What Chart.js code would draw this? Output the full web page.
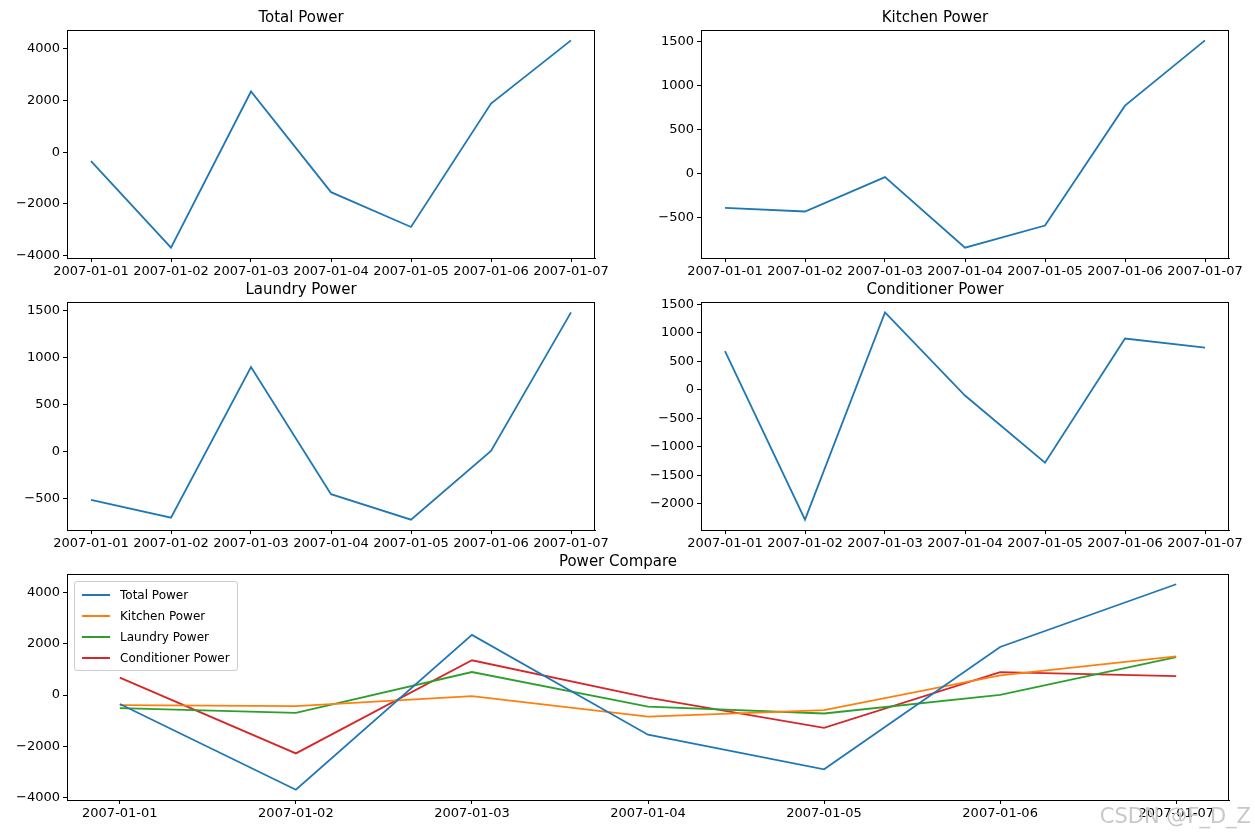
<!DOCTYPE html>
<html>
<head>
<meta charset="utf-8">
<script src="https://cdn.jsdelivr.net/npm/chart.js@4.4.1/dist/chart.umd.min.js"></script>
<style>
  body { margin: 0; background: #fff; font-family: "DejaVu Sans", sans-serif; }
  .box { position: absolute; }
  #legend { position: absolute; left: 74px; top: 581px; background: rgba(255,255,255,0.85);
            border: 1px solid #ccc; border-radius: 3px; padding: 2px 7px; font-size: 12px; }
  #legend div { display: flex; align-items: center; height: 21px; }
  #legend span.sw { display: inline-block; width: 28px; height: 2px; margin-right: 10px; }
  #wm { position: absolute; right: 4px; bottom: 6px; color: #c8c8c8; font-size: 21px; }
</style>
</head>
<body>
<div class="box" id="b0"><canvas id="c0"></canvas></div>
<div class="box" id="b1"><canvas id="c1"></canvas></div>
<div class="box" id="b2"><canvas id="c2"></canvas></div>
<div class="box" id="b3"><canvas id="c3"></canvas></div>
<div class="box" id="b4"><canvas id="c4"></canvas></div>
<div id="legend"></div>
<div id="wm">CSDN @F_D_Z</div>
<script>
  const dates = ['2007-01-01', '2007-01-02', '2007-01-03', '2007-01-04', '2007-01-05', '2007-01-06', '2007-01-07'];
  const totalPower = [-350, -3700, 2350, -1550, -2900, 1880, 4330];
  const kitchenPower = [-390, -430, -40, -840, -590, 770, 1510];
  const laundryPower = [-510, -700, 900, -450, -720, 10, 1480];
  const conditionerPower = [680, -2280, 1360, -100, -1280, 900, 740];
  const colors = ['#1f77b4', '#ff7f0e', '#2ca02c', '#d62728'];

  const frame = {
    id: 'frame',
    afterDraw(chart) {
      const a = chart.chartArea, ctx = chart.ctx;
      ctx.save(); ctx.strokeStyle = '#000'; ctx.lineWidth = 1;
      ctx.strokeRect(a.left + 0.5, a.top + 0.5, a.right - a.left - 1, a.bottom - a.top);
      ctx.restore();
    }
  };

  function makeChart(idx, L, T, W, H, title, series, step) {
    const box = document.getElementById('b' + idx);
    Object.assign(box.style, { left: (L - 60) + 'px', top: (T - 24) + 'px',
      width: (W + 100) + 'px', height: (H + 54) + 'px' });
    const all = series.flatMap(s => s.data);
    const lo = Math.min(...all), hi = Math.max(...all), m = (hi - lo) * 0.05;
    new Chart(document.getElementById('c' + idx), {
      type: 'line',
      data: {
        datasets: series.map(s => ({
          label: s.label, data: s.data.map((v, i) => ({ x: i, y: v })),
          borderColor: s.color, borderWidth: 1.8, pointRadius: 0, tension: 0
        }))
      },
      options: {
        responsive: true, maintainAspectRatio: false, animation: false,
        layout: { padding: { left: 0, right: 40, top: 0, bottom: 0 } },
        plugins: {
          legend: { display: false }, tooltip: { enabled: false },
          title: { display: true, text: title, color: '#000',
                   font: { size: 15, family: 'DejaVu Sans', weight: 'normal' },
                   padding: { top: 3, bottom: 3 } }
        },
        scales: {
          x: {
            type: 'linear', min: -0.3, max: 6.3,
            afterFit: s => { s.height = 30; },
            afterBuildTicks: s => { s.ticks = dates.map((d, i) => ({ value: i })); },
            ticks: { autoSkip: false, maxRotation: 0, color: '#000', padding: 2,
                     font: { size: 13, family: 'DejaVu Sans' },
                     callback: v => dates[v] },
            grid: { drawOnChartArea: false, tickLength: 4, color: '#000' },
            border: { color: '#000' }
          },
          y: {
            min: lo - m, max: hi + m,
            afterFit: s => { s.width = 60; },
            afterBuildTicks: s => {
              const t = [];
              for (let v = Math.ceil((lo - m) / step) * step; v <= hi + m; v += step) t.push({ value: v });
              s.ticks = t;
            },
            ticks: { color: '#000', padding: 3, font: { size: 13, family: 'DejaVu Sans' },
                     callback: v => (v < 0 ? '\u2212' : '') + Math.abs(v) },
            grid: { drawOnChartArea: false, tickLength: 4, color: '#000' },
            border: { color: '#000' }
          }
        }
      },
      plugins: [frame]
    });
  }

  makeChart(0, 67, 30, 528, 228, 'Total Power', [{ label: 'Total Power', data: totalPower, color: colors[0] }], 2000);
  makeChart(1, 701, 30, 528, 228, 'Kitchen Power', [{ label: 'Kitchen Power', data: kitchenPower, color: colors[0] }], 500);
  makeChart(2, 67, 302, 528, 228, 'Laundry Power', [{ label: 'Laundry Power', data: laundryPower, color: colors[0] }], 500);
  makeChart(3, 701, 302, 528, 228, 'Conditioner Power', [{ label: 'Conditioner Power', data: conditionerPower, color: colors[0] }], 500);
  const cmp = [
    { label: 'Total Power', data: totalPower, color: colors[0] },
    { label: 'Kitchen Power', data: kitchenPower, color: colors[1] },
    { label: 'Laundry Power', data: laundryPower, color: colors[2] },
    { label: 'Conditioner Power', data: conditionerPower, color: colors[3] }
  ];
  makeChart(4, 67, 574, 1162, 226, 'Power Compare', cmp, 2000);

  document.getElementById('legend').innerHTML = cmp.map(s =>
    `<div><span class="sw" style="background:${s.color}"></span>${s.label}</div>`).join('');
</script>
</body>
</html>
